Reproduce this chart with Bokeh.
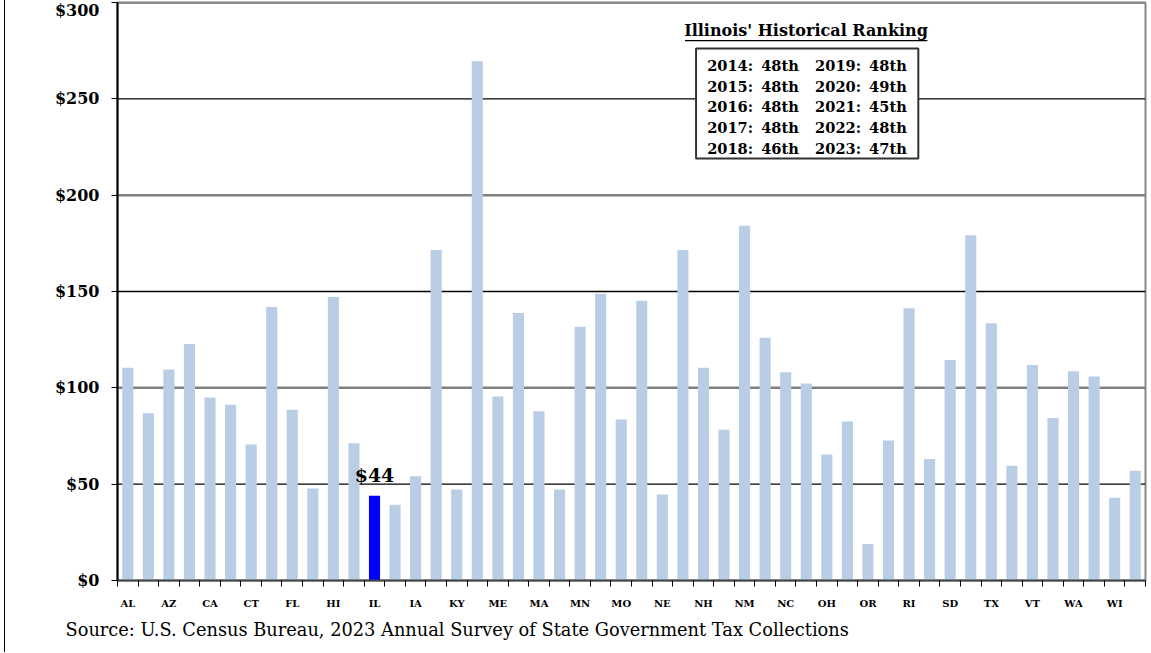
from bokeh.plotting import figure
from bokeh.models import ColumnDataSource, Range1d, FixedTicker, Span, Label, BoxAnnotation, Title
from bokeh.core.properties import value
from bokeh.embed import file_html
from bokeh.resources import INLINE

# ---------------- data ----------------
states = ["AL", "AK", "AZ", "AR", "CA", "CO", "CT", "DE", "FL", "GA",
          "HI", "ID", "IL", "IN", "IA", "KS", "KY", "LA", "ME", "MD",
          "MA", "MI", "MN", "MS", "MO", "MT", "NE", "NV", "NH", "NJ",
          "NM", "NY", "NC", "ND", "OH", "OK", "OR", "PA", "RI", "SC",
          "SD", "TN", "TX", "UT", "VT", "VA", "WA", "WV", "WI", "WY"]
values = [110.4, 86.8, 109.5, 122.7, 95.0, 91.2, 70.6, 141.9, 88.6, 47.7,
          147.2, 71.3, 44.0, 39.3, 54.1, 171.6, 47.2, 269.5, 95.5, 138.9,
          87.9, 47.2, 131.7, 148.8, 83.6, 145.2, 44.6, 171.6, 110.4, 78.2,
          184.1, 126.0, 108.1, 102.2, 65.4, 82.5, 19.0, 72.6, 141.3, 63.1,
          114.5, 179.2, 133.5, 59.6, 111.9, 84.4, 108.6, 105.9, 42.9, 56.9]
y_ticks = [0, 50, 100, 150, 200, 250, 300]
highlight_state = "IL"
rank_years = [2014, 2015, 2016, 2017, 2018, 2019, 2020, 2021, 2022, 2023]
ranks = ["48th", "48th", "48th", "48th", "46th", "48th", "49th", "45th", "48th", "47th"]
box_title = "Illinois' Historical Ranking"
source_text = "Source: U.S. Census Bureau, 2023 Annual Survey of State Government Tax Collections"

# ---------------- style ----------------
SERIF = "DejaVu Serif"
BAR = "#B9CDE5"
HIGHLIGHT = "#0000FF"

n = len(states)
idx = list(range(n))
colors = [HIGHLIGHT if s == highlight_state else BAR for s in states]
src = ColumnDataSource(dict(x=idx, top=values, color=colors, state=states))

p = figure(width=1145, height=652, output_backend="svg", toolbar_location=None,
           x_range=Range1d(-0.5, n - 0.5), y_range=Range1d(0, 300),
           min_border_left=112, min_border_right=5, min_border_top=2,
           min_border_bottom=72)
p.background_fill_color = "white"
p.border_fill_color = "white"
p.outline_line_color = "#888888"
p.outline_line_width = 2
p.xgrid.visible = False
p.ygrid.visible = False

# gridlines (alternating gray / black as in the source image)
for t in y_ticks[1:]:
    gray = (t // 50) % 2 == 0
    p.add_layout(Span(location=t, dimension="width",
                      line_color="#808080" if gray else "black",
                      line_width=2.5 if gray else 1.3, level="underlay"))

# ranking box (under the texts, over the gridlines)
p.add_layout(BoxAnnotation(left=27.64, right=38.45, top=276.1, bottom=219.0,
                           fill_color="white", fill_alpha=1.0, level="underlay",
                           line_color="#333333", line_width=2, line_alpha=1.0))

p.vbar(x="x", top="top", bottom=0, width=0.54, color="color", line_color=None, source=src)

# highlighted value label
hi = states.index(highlight_state)
lab_src = ColumnDataSource(dict(x=[hi], y=[values[hi]], t=["$%d" % round(values[hi])]))
p.text(x="x", y="y", text="t", source=lab_src, text_align="center",
       text_baseline="alphabetic", y_offset=-21, text_font=value(SERIF),
       text_font_style="bold", text_font_size="19px", text_color="black")

# x axis
xa = p.xaxis[0]
xa.ticker = FixedTicker(ticks=idx[::2], minor_ticks=[i - 0.5 for i in range(n + 1)])
xa.major_label_overrides = {i: states[i] for i in idx[::2]}
xa.major_tick_line_color = None
xa.major_tick_in = 0
xa.major_tick_out = 0
xa.minor_tick_in = 0
xa.minor_tick_out = 6
xa.minor_tick_line_color = "black"
xa.minor_tick_line_width = 1
xa.axis_line_color = "#444444"
xa.axis_line_width = 2
xa.major_label_standoff = 11
xa.major_label_text_font = SERIF
xa.major_label_text_font_style = "bold"
xa.major_label_text_font_size = "10px"
xa.major_label_text_color = "black"

# y axis
ya = p.yaxis[0]
ya.ticker = FixedTicker(ticks=y_ticks)
ya.major_label_overrides = {t: "$%d" % t for t in y_ticks}
ya.minor_tick_line_color = None
ya.major_tick_in = 0
ya.major_tick_out = 6
ya.major_tick_line_color = "black"
ya.axis_line_color = "black"
ya.axis_line_width = 2
ya.major_label_standoff = 12
ya.major_label_text_font = SERIF
ya.major_label_text_font_style = "bold"
ya.major_label_text_font_size = "16px"
ya.major_label_text_color = "black"

# ranking box title + underline
p.add_layout(Label(x=32.99, y=285.5, text=box_title, text_align="center",
                   text_baseline="middle", text_font=SERIF, text_font_style="bold",
                   text_font_size="16px", text_color="black"))
p.segment(x0=[27.10], x1=[38.89], y0=[280.2], y1=[280.2], line_color="black", line_width=1.3)

row_y = [267.3, 256.4, 246.0, 235.1, 224.2]
tbl = ColumnDataSource(dict(
    x=[28.18] * 5 + [33.43] * 5,
    y=row_y + row_y,
    t=["%d:\u2009 %s" % (yr, r) for yr, r in zip(rank_years, ranks)]))
p.text(x="x", y="y", text="t", source=tbl, text_align="left", text_baseline="middle",
       text_font=value(SERIF), text_font_style="bold", text_font_size="14.6px",
       text_color="black")

# source note
p.add_layout(Title(text=source_text, align="left", offset=-52, standoff=10,
                   text_font=SERIF, text_font_style="normal", text_font_size="17.8px",
                   text_color="black"), "below")

p.styles = {"border-left": "1px solid black", "margin-left": "4px"}

open("out.html", "w").write(file_html(p, INLINE))
